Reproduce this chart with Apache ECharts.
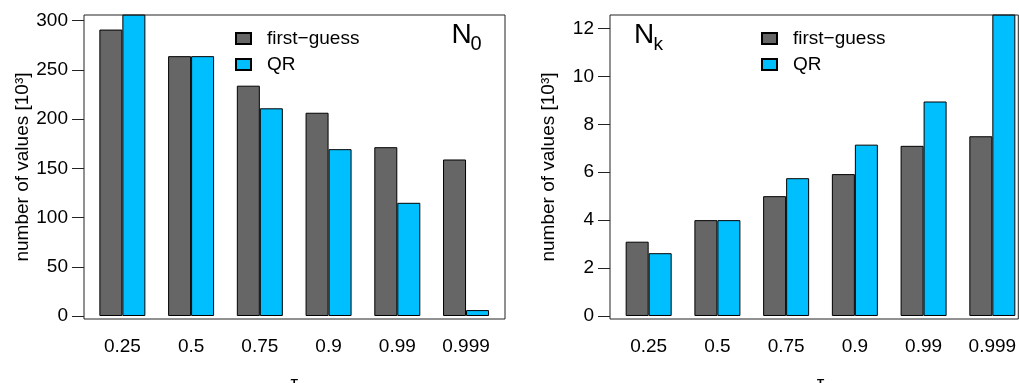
<!DOCTYPE html>
<html>
<head>
<meta charset="utf-8">
<script src="https://cdn.jsdelivr.net/npm/echarts@6/dist/echarts.min.js"></script>
<style>
  html, body { margin: 0; padding: 0; background: #fff; }
  #chart { width: 1019px; height: 383px; }
</style>
</head>
<body>
<div id="chart"></div>
<script>
// quantile levels on the x axis
const categories = ['0.25', '0.5', '0.75', '0.9', '0.99', '0.999'];

// N0 counts, thousands of values
const firstGuessN0 = [291, 264, 234, 206.5, 171.5, 159];
const qrN0 = [312, 264, 211, 169.5, 115, 6];

// Nk counts, thousands of values
const firstGuessNk = [3.1, 4.0, 5.0, 5.92, 7.1, 7.5];
const qrNk = [2.62, 4.0, 5.75, 7.15, 8.95, 12.9];

// y tick labels of each panel
const yTicksN0 = [0, 50, 100, 150, 200, 250, 300];
const yTicksNk = [0, 2, 4, 6, 8, 10, 12];

const FG_NAME = 'first\u2212guess';
const QR_NAME = 'QR';
const GRAY = '#666666';
const BLUE = '#00BFFF';
const FONT = 'Liberation Sans, Arial, Helvetica, sans-serif';
const FS = 19;

const chart = echarts.init(document.getElementById('chart'), null, { renderer: 'canvas' });

function xAxisFor(gridIndex) {
  return {
    type: 'category',
    gridIndex: gridIndex,
    data: categories,
    position: 'bottom',
    axisLine: { show: false, onZero: false },
    axisTick: { show: false },
    axisLabel: { color: '#000', fontSize: FS, fontFamily: FONT, margin: 18 },
    name: '\u03c4',
    nameLocation: 'middle',
    nameGap: 55,
    nameTextStyle: { color: '#000', fontSize: FS, fontFamily: FONT },
    splitLine: { show: false }
  };
}

function yAxisFor(gridIndex, min, max, ticks, offset) {
  return {
    type: 'value',
    gridIndex: gridIndex,
    min: min,
    max: max,
    offset: offset,
    axisLine: { show: false },
    axisTick: {
      show: true, inside: false, length: 12, customValues: ticks,
      lineStyle: { color: '#222', width: 1 }
    },
    axisLabel: {
      color: '#000', fontSize: FS, fontFamily: FONT, margin: 16, customValues: ticks
    },
    splitLine: { show: false },
    name: 'number of values [10\u00b3]',
    nameLocation: 'middle',
    nameRotate: 90,
    nameGap: 52,
    nameTextStyle: { color: '#000', fontSize: FS, fontFamily: FONT }
  };
}

function barSeries(name, data, color, xi, yi) {
  return {
    type: 'bar',
    name: name,
    data: data,
    xAxisIndex: xi,
    yAxisIndex: yi,
    barWidth: 23,
    barGap: '0%',
    clip: true,
    itemStyle: { color: color, borderColor: '#000', borderWidth: 1 },
    emphasis: { disabled: true },
    animation: false
  };
}

function legendAt(left) {
  return {
    orient: 'vertical',
    left: left,
    top: 29,
    padding: 0,
    itemWidth: 15,
    itemHeight: 11,
    itemGap: 7,
    icon: 'rect',
    selectedMode: false,
    data: [FG_NAME, QR_NAME],
    textStyle: {
      color: '#000', fontSize: FS, fontFamily: FONT, lineHeight: 18,
      padding: [0, 0, 0, 11]
    }
  };
}

const option = {
  backgroundColor: '#fff',
  animation: false,
  grid: [
    // bar areas
    { left: 88, top: 15, width: 412.4, height: 304, outerBoundsMode: 'none', containLabel: false },
    { left: 614.3, top: 15, width: 412.4, height: 304, outerBoundsMode: 'none', containLabel: false },
    // panel frames
    { left: 84, top: 15, width: 421, height: 304, show: true, borderColor: '#222', borderWidth: 1,
      backgroundColor: 'transparent', z: 5, outerBoundsMode: 'none', containLabel: false },
    { left: 610, top: 15, width: 408.3, height: 304, show: true, borderColor: '#222', borderWidth: 1,
      backgroundColor: 'transparent', z: 5, outerBoundsMode: 'none', containLabel: false }
  ],
  xAxis: [
    xAxisFor(0),
    xAxisFor(1),
    { type: 'value', gridIndex: 2, show: false },
    { type: 'value', gridIndex: 3, show: false }
  ],
  yAxis: [
    yAxisFor(0, -3.05, 305.8, yTicksN0, 4),
    yAxisFor(1, -0.126, 12.56, yTicksNk, 4.3),
    { type: 'value', gridIndex: 2, show: false },
    { type: 'value', gridIndex: 3, show: false }
  ],
  legend: [legendAt(235), legendAt(761)],
  series: [
    barSeries(FG_NAME, firstGuessN0, GRAY, 0, 0),
    barSeries(QR_NAME, qrN0, BLUE, 0, 0),
    barSeries(FG_NAME, firstGuessNk, GRAY, 1, 1),
    barSeries(QR_NAME, qrNk, BLUE, 1, 1)
  ],
  graphic: [
    { type: 'text', left: 451.5, top: 21.5, silent: true,
      style: { text: 'N', fontSize: 28, fontFamily: FONT, fill: '#000' } },
    { type: 'text', left: 470.5, top: 34, silent: true,
      style: { text: '0', fontSize: 20, fontFamily: FONT, fill: '#000' } },
    { type: 'text', left: 634, top: 21.5, silent: true,
      style: { text: 'N', fontSize: 28, fontFamily: FONT, fill: '#000' } },
    { type: 'text', left: 653.5, top: 35.5, silent: true,
      style: { text: 'k', fontSize: 19, fontFamily: FONT, fill: '#000' } }
  ]
};

chart.setOption(option);
</script>
</body>
</html>
